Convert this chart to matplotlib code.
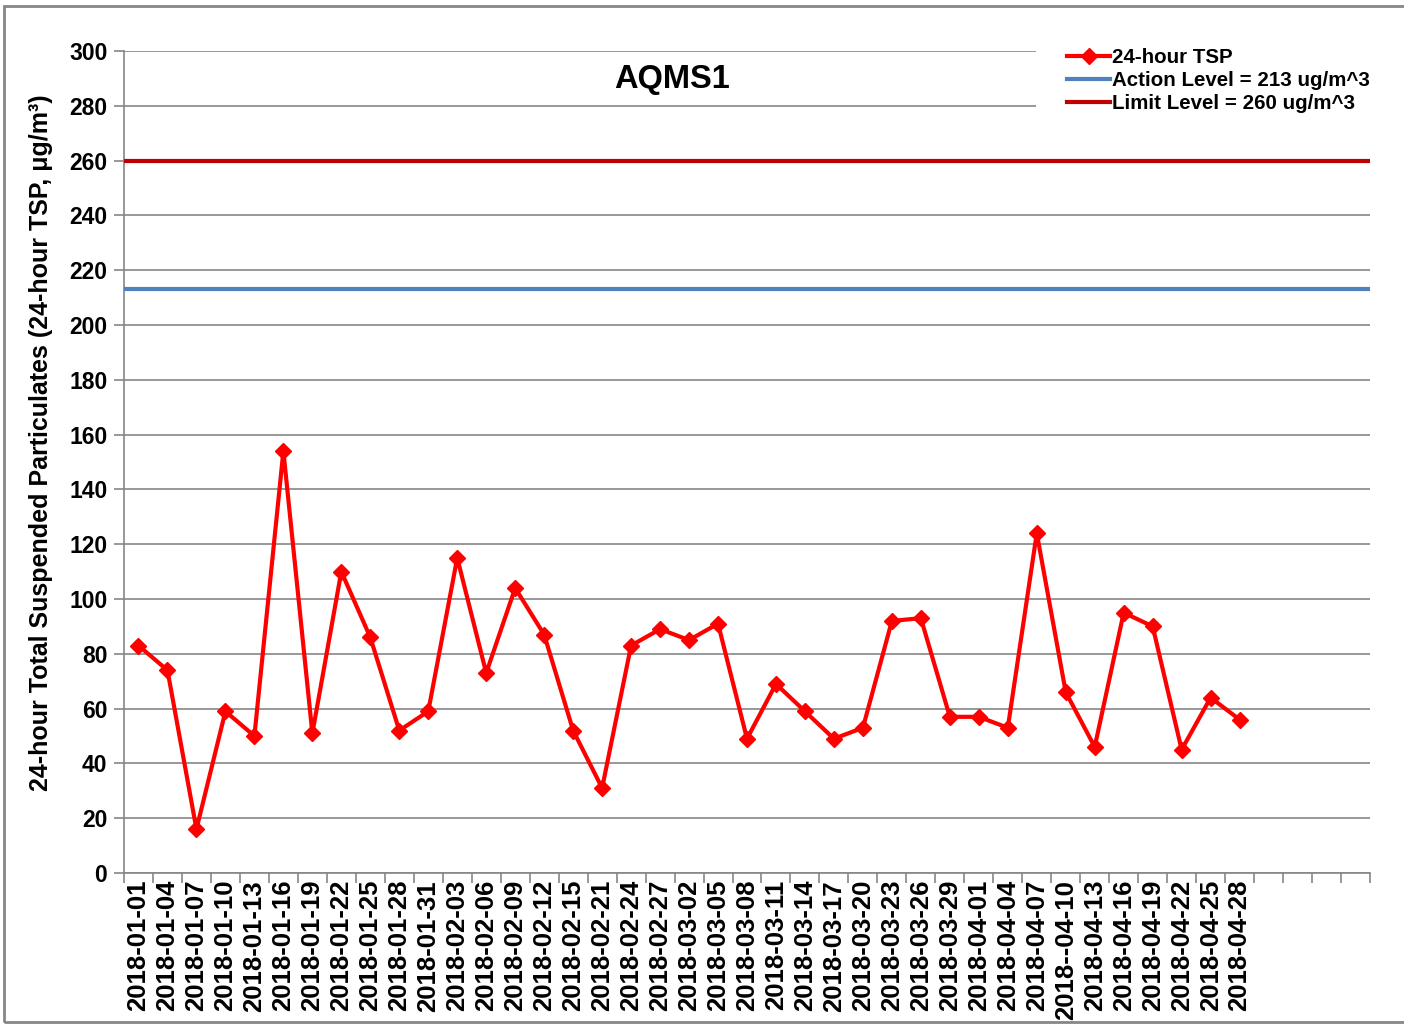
import matplotlib
matplotlib.use("Agg")
import matplotlib.pyplot as plt
from matplotlib.patches import Rectangle
import numpy as np

plt.rcParams['font.family'] = ['Liberation Sans', 'DejaVu Sans']
plt.rcParams['font.weight'] = 'bold'

# sampling dates (as printed on the chart)
dates = ["2018-01-01", "2018-01-04", "2018-01-07", "2018-01-10", "2018-01-13",
         "2018-01-16", "2018-01-19", "2018-01-22", "2018-01-25", "2018-01-28",
         "2018-01-31", "2018-02-03", "2018-02-06", "2018-02-09", "2018-02-12",
         "2018-02-15", "2018-02-21", "2018-02-24", "2018-02-27", "2018-03-02",
         "2018-03-05", "2018-03-08", "2018-03-11", "2018-03-14", "2018-03-17",
         "2018-03-20", "2018-03-23", "2018-03-26", "2018-03-29", "2018-04-01",
         "2018-04-04", "2018-04-07", "2018--04-10", "2018-04-13", "2018-04-16",
         "2018-04-19", "2018-04-22", "2018-04-25", "2018-04-28"]
tsp = [83, 74, 16, 59, 50, 154, 51, 110, 86, 52,
       59, 115, 73, 104, 87, 52, 31, 83, 89, 85,
       91, 49, 69, 59, 49, 53, 92, 93, 57, 57,
       53, 124, 66, 46, 95, 90, 45, 64, 56]
action_level = 213
limit_level = 260
n_slots = 43  # category axis has 4 empty slots at the end

fig = plt.figure(figsize=(14.04, 10.25), dpi=100)
ax = fig.add_axes([124/1404, 1 - 873/1025, (1370-124)/1404, (873-51)/1025])

x = np.arange(len(tsp))
grey = '#868686'

ax.axhline(limit_level, color='#C00000', lw=3, zorder=3)
ax.axhline(action_level, color='#4F81BD', lw=3, zorder=3)
l1, = ax.plot(x, tsp, color='#FF0000', lw=3, marker='D', ms=8.5, zorder=4)
l2, = ax.plot([], [], color='#4F81BD', lw=3)
l3, = ax.plot([], [], color='#C00000', lw=3)

ax.set_xlim(-0.5, n_slots - 0.5)
ax.set_ylim(0, 300)
ax.set_yticks(np.arange(0, 301, 20))
ax.yaxis.grid(True, color=grey, lw=1.2)
ax.set_axisbelow(True)

ax.set_xticks(x)
ax.set_xticklabels(dates, rotation=90, fontsize=18.5, fontweight='bold')
ax.set_xticks(np.arange(-0.5, n_slots), minor=True)
ax.tick_params(axis='x', which='major', length=0, pad=5)
ax.tick_params(axis='x', which='minor', length=7, color=grey, width=1.2)
ax.tick_params(axis='y', length=7, color=grey, width=1.2, labelsize=16.5, pad=5)
for lab in ax.get_yticklabels():
    lab.set_fontweight('bold')

for s in ['top', 'right']:
    ax.spines[s].set_visible(False)
for s in ['left', 'bottom']:
    ax.spines[s].set_color(grey)
    ax.spines[s].set_linewidth(1.2)

ax.set_ylabel("24-hour Total Suspended Particulates (24-hour TSP, μg/m³)",
              fontsize=18, fontweight='bold', labelpad=2)
ax.yaxis.set_label_coords(-0.057, 0.524)
ax.text(0.44, 0.965, "AQMS1", transform=ax.transAxes, ha='center', va='center',
        fontsize=23.5, fontweight='bold')

leg = ax.legend([l1, l2, l3],
                ["24-hour TSP", "Action Level = 213 ug/m^3", "Limit Level = 260 ug/m^3"],
                loc='upper right', bbox_to_anchor=(1.025, 1.041), fontsize=14.8,
                frameon=True, fancybox=False, edgecolor='none', facecolor='white',
                framealpha=1, handlelength=2.1, handletextpad=0.1,
                labelspacing=0.2, borderpad=1.5, borderaxespad=0)
for t in leg.get_texts():
    t.set_fontweight('bold')
leg.set_zorder(5)

fig.patches.append(Rectangle((4/1404, 1 - 1022/1025), 1.1, (1022-6)/1025,
                             transform=fig.transFigure, fill=False,
                             edgecolor=grey, lw=2, clip_on=False))

fig.savefig("out.png", dpi=100)
